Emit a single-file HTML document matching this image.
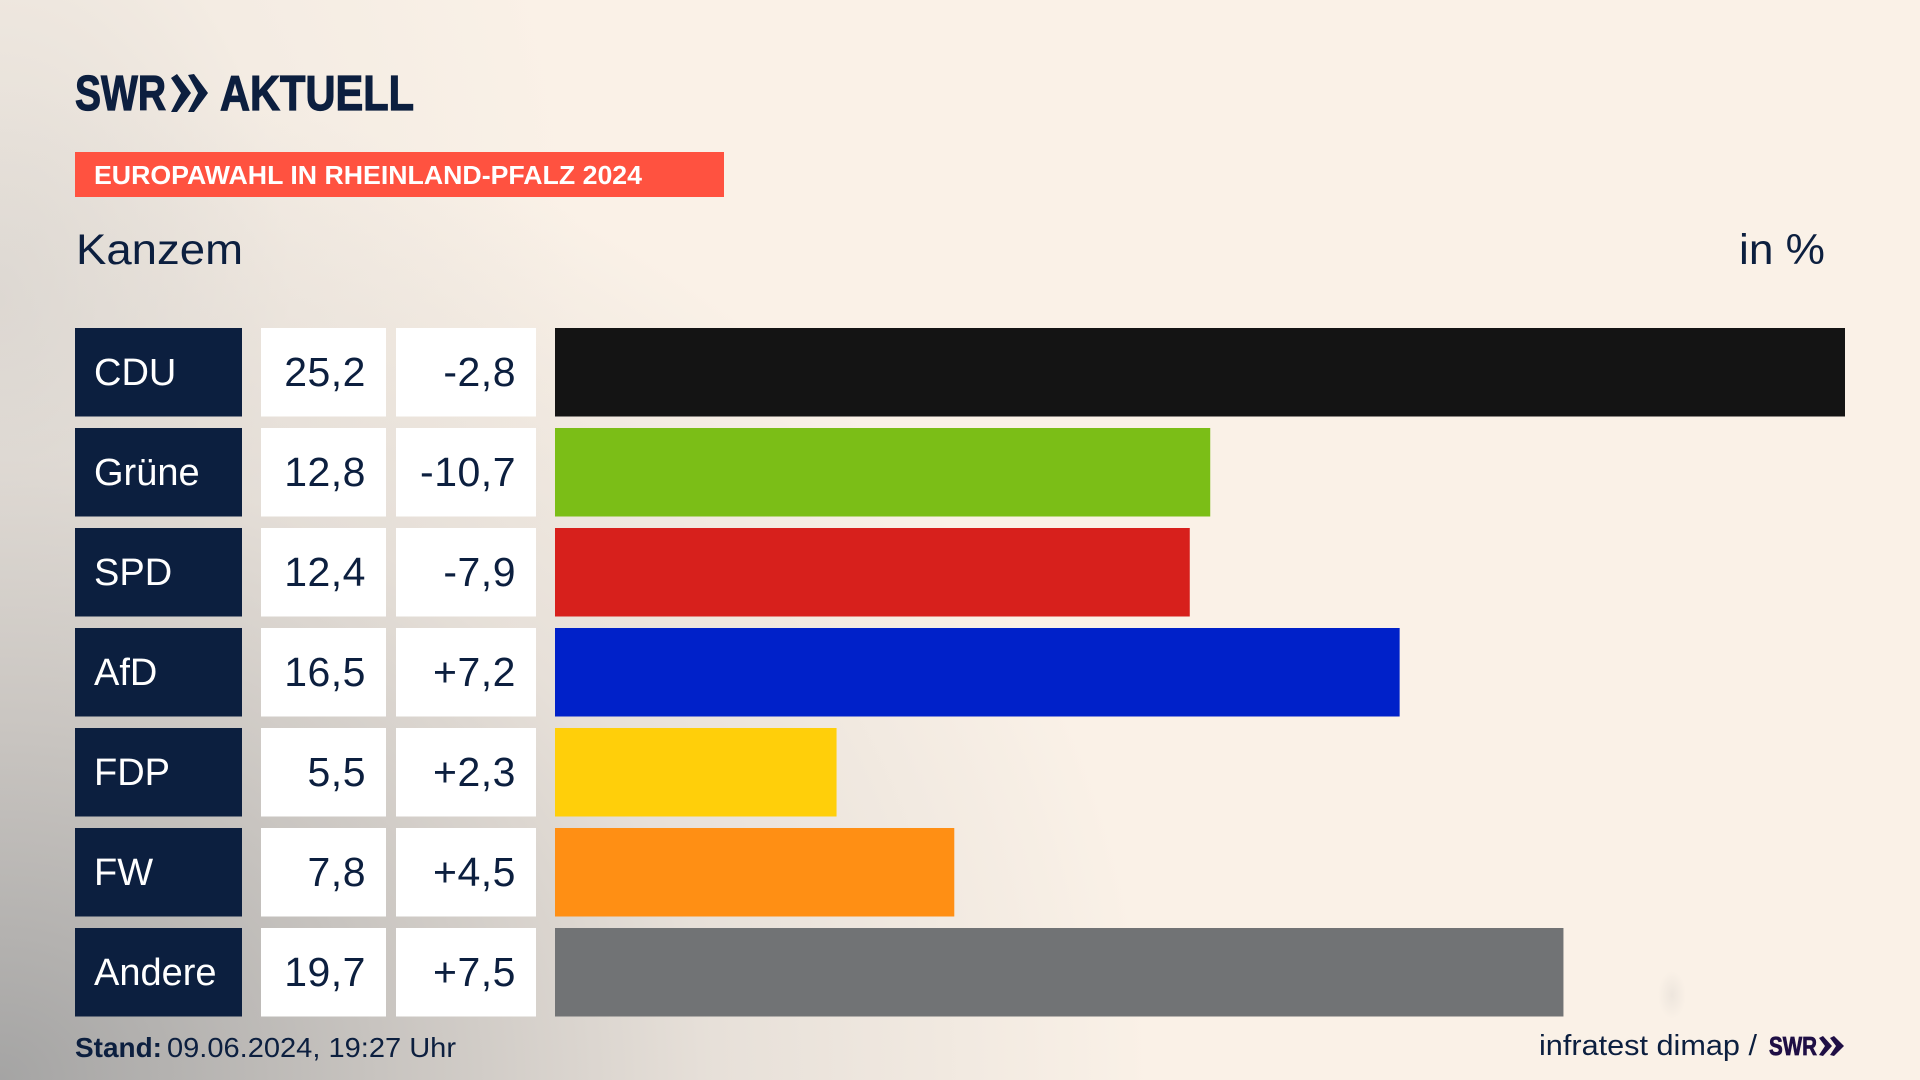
<!DOCTYPE html>
<html lang="de">
<head>
<meta charset="utf-8">
<title>Europawahl in Rheinland-Pfalz 2024 – Kanzem</title>
<style>
  html, body { margin: 0; padding: 0; width: 1920px; height: 1080px; overflow: hidden; }
  body {
    background-color: #faf1e7;
    background-image:
      radial-gradient(ellipse 14px 24px at 1672px 995px, rgba(205,200,195,.28) 0%, rgba(250,241,231,0) 100%),
      radial-gradient(ellipse 1150px 1000px at 0 1080px, rgba(160,160,160,.95) 0%, rgba(190,187,184,.8) 35%, rgba(215,210,205,.55) 62%, rgba(250,241,231,0) 100%),
      radial-gradient(ellipse 580px 850px at 0 300px, rgba(210,207,203,.65) 0%, rgba(232,226,219,.35) 50%, rgba(250,241,231,0) 100%);
    font-family: "Liberation Sans", sans-serif;
  }
  svg { position: absolute; left: 0; top: 0; display: block; }
  text { font-family: "Liberation Sans", sans-serif; fill: #0c1f3f; }
  .logo-text { stroke: #0c1f3f; stroke-width: 1.2px; }
  .label-box { fill: #0c1f3f; }
  .value-box { fill: #ffffff; }
  .party-label { fill: #ffffff; font-size: 38px; }
  .value-text { font-size: 41px; text-anchor: end; letter-spacing: 0.5px; }
  [data-party="CDU"] { fill: #141414; }
  [data-party="Grüne"] { fill: #7bbe17; }
  [data-party="SPD"] { fill: #d7201c; }
  [data-party="AfD"] { fill: #0021c9; }
  [data-party="FDP"] { fill: #ffcf0a; }
  [data-party="FW"] { fill: #ff8f14; }
  [data-party="Andere"] { fill: #717375; }
</style>
</head>
<body>
<svg id="chart" width="1920" height="1080" viewBox="0 0 1920 1080">
  <g>
    <text class="logo-text" x="75" y="110" font-size="49" font-weight="700" textLength="91" lengthAdjust="spacingAndGlyphs">SWR</text>
    <polygon points="171,78 177,74 191,93 177,112 171,112 181,93" fill="#0c1f3f"/>
    <polygon points="188,75 194,74 208,93 194,112 188,112 198,93" fill="#0c1f3f"/>
    <text class="logo-text" x="220" y="110" font-size="49" font-weight="700" textLength="194" lengthAdjust="spacingAndGlyphs">AKTUELL</text>
  </g>
  <rect x="75" y="152" width="649" height="45" fill="#ff5240"/>
  <text x="94" y="184" font-size="26" font-weight="700" style="fill:#ffffff" textLength="548" lengthAdjust="spacingAndGlyphs">EUROPAWAHL IN RHEINLAND-PFALZ 2024</text>
  <text x="76" y="264" font-size="43" textLength="167" lengthAdjust="spacingAndGlyphs">Kanzem</text>
  <text x="1739" y="264" font-size="43" textLength="86" lengthAdjust="spacingAndGlyphs">in %</text>
  <g id="rows"></g>
  <text x="75" y="1057" font-size="28" font-weight="700" textLength="87" lengthAdjust="spacingAndGlyphs">Stand:</text>
  <text x="167" y="1057" font-size="28" textLength="289" lengthAdjust="spacingAndGlyphs">09.06.2024, 19:27 Uhr</text>
  <text x="1539" y="1055" font-size="29" textLength="218" lengthAdjust="spacingAndGlyphs">infratest dimap /</text>
  <text x="1769" y="1055" font-size="26" font-weight="700" style="fill:#1f0f45;stroke:#1f0f45;stroke-width:.8px" textLength="48" lengthAdjust="spacingAndGlyphs">SWR</text>
  <polygon points="1819,1038 1823,1036 1832,1046 1823,1056 1819,1055 1825,1046" fill="#1f0f45"/>
  <polygon points="1830,1038 1834,1036 1844,1046 1834,1056 1830,1055 1836,1046" fill="#1f0f45"/>
</svg>
<script>
const parties = ["CDU", "Grüne", "SPD", "AfD", "FDP", "FW", "Andere"];
const shares = [25.2, 12.8, 12.4, 16.5, 5.5, 7.8, 19.7];
const changes = [-2.8, -10.7, -7.9, 7.2, 2.3, 4.5, 7.5];

const domainMax = 25.2;
const barLeft = 555;
const barMaxWidth = 1290;
const rowTop = 328;
const rowStep = 100;
const rowHeight = 88.5;

function xScale(value) {
  return (value / domainMax) * barMaxWidth;
}
function yScale(index) {
  return rowTop + index * rowStep;
}
function fmtShare(value) {
  return value.toFixed(1).replace(".", ",");
}
function fmtChange(value) {
  return (value > 0 ? "+" : "") + value.toFixed(1).replace(".", ",");
}

const SVG_NS = "http://www.w3.org/2000/svg";
const root = document.getElementById("rows");

function makeRect(x, y, w, h, cls) {
  const r = document.createElementNS(SVG_NS, "rect");
  r.setAttribute("x", x);
  r.setAttribute("y", y);
  r.setAttribute("width", w);
  r.setAttribute("height", h);
  if (cls) r.setAttribute("class", cls);
  return r;
}
function makeText(x, y, str, cls) {
  const t = document.createElementNS(SVG_NS, "text");
  t.setAttribute("x", x);
  t.setAttribute("y", y);
  t.setAttribute("class", cls);
  t.textContent = str;
  return t;
}

parties.forEach(function (party, i) {
  const slug = party.toLowerCase().replace("ü", "ue");
  const top = yScale(i);

  const group = document.createElementNS(SVG_NS, "g");
  
  

  const labelBox = makeRect(75, top, 167, rowHeight, "label-box");
  
  
  group.appendChild(labelBox);

  const label = makeText(94, top + 57, party, "party-label");
  
  
  group.appendChild(label);

  const shareBox = makeRect(261, top, 125, rowHeight, "value-box");
  
  
  group.appendChild(shareBox);

  const shareText = makeText(366, top + 58, fmtShare(shares[i]), "value-text");
  
  
  group.appendChild(shareText);

  const changeBox = makeRect(396, top, 140, rowHeight, "value-box");
  
  
  group.appendChild(changeBox);

  const changeText = makeText(516, top + 58, fmtChange(changes[i]), "value-text");
  
  
  group.appendChild(changeText);

  const bar = makeRect(barLeft, top, xScale(shares[i]), rowHeight, "");
  bar.setAttribute("data-party", party);
  
  
  group.appendChild(bar);

  root.appendChild(group);
});
</script>
</body>
</html>
